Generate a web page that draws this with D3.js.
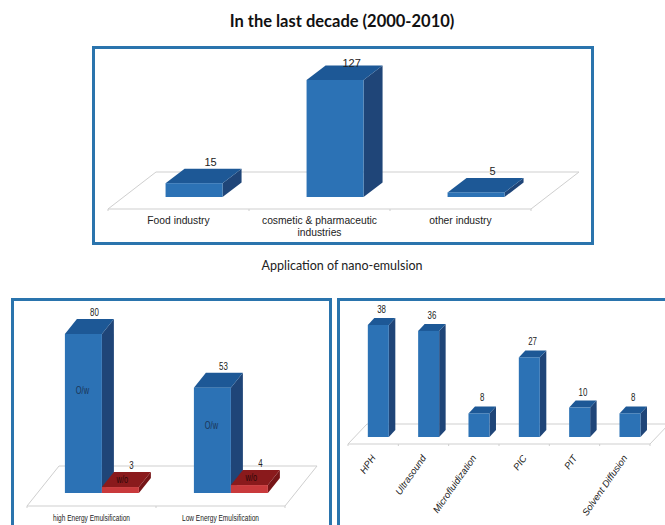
<!DOCTYPE html>
<html>
<head>
<meta charset="utf-8">
<script src="https://cdn.jsdelivr.net/npm/d3@7/dist/d3.min.js"></script>
<style>
  html, body { margin: 0; padding: 0; background: #fff; overflow: hidden; }
  svg { display: block; }
  text { fill: #222; }
</style>
</head>
<body>
<svg id="chart" width="665" height="525"></svg>
<script>
// Application of nano-emulsion by industry
const industryCategories = ["Food industry", "cosmetic & pharmaceutic industries", "other industry"];
const industryCounts = [15, 127, 5];

// Emulsion type by energy method
const energyCategories = ["high Energy Emulsification", "Low Energy Emulsification"];
const oilInWaterCounts = [80, 53];
const waterInOilCounts = [3, 4];
const oilInWaterLabel = "O/w";
const waterInOilLabel = "w/o";

// Count per preparation technique
const methodCategories = ["HPH", "Ultrasound", "Microfluidization", "PIC", "PIT", "Solvent Diffusion"];
const methodCounts = [38, 36, 8, 27, 10, 8];

const titleText = "In the last decade (2000-2010)";
const captionText = "Application of nano-emulsion";

const BLUE = { front: "#2c72b5", top: "#1d5896", side: "#1f4578" };
const RED = { front: "#c93a3c", top: "#8a1a1c", side: "#761517" };
const FRAME = "#2a74ad";
const FLOOR = "#cfcfcf";

const svg = d3.select("#chart");

function frame(x, y, w, h) {
  svg.append("rect").attr("x", x).attr("y", y).attr("width", w).attr("height", h)
    .attr("fill", "#fff").attr("stroke", FRAME).attr("stroke-width", 3);
}

const poly = pts => d3.line()(pts) + "Z";

// Narrow text drawn at a given anchor point
function squeezedText(parent, px, py, sx, size, fill, str) {
  return parent.append("text").attr("text-anchor", "middle")
    .attr("transform", `translate(${px},${py}) scale(${sx},1)`)
    .attr("font-family", "Liberation Sans").attr("font-size", size)
    .style("fill", fill).text(str);
}

// One 3D column chart: a skewed floor plane with extruded bars standing on it.
function columnChart(o) {
  const g = svg.append("g");
  const x = d3.scaleBand().domain(o.categories).range([o.floorLeft, o.floorRight]);
  const y = d3.scaleLinear().domain([0, o.maxValue]).range([o.baseY, o.maxY]);
  const sub = d3.scaleBand().domain(o.series.map(s => s.name))
    .range([0, o.barWidth * o.series.length]);
  const skew = (o.floorFrontY - o.baseY) / (o.floorFrontY - o.floorBackY) * o.floorDx + (o.barShift || 0);

  g.append("path").attr("fill", "none").attr("stroke", FLOOR).attr("stroke-width", 1)
    .attr("d", poly([
      [o.floorLeft, o.floorFrontY], [o.floorRight, o.floorFrontY],
      [o.floorRight + o.floorDx, o.floorBackY], [o.floorLeft + o.floorDx, o.floorBackY]
    ]));
  g.selectAll(".tick").data(o.categories.map(c => x(c)).concat(o.floorRight)).join("line")
    .attr("x1", d => d).attr("x2", d => d)
    .attr("y1", o.floorFrontY).attr("y2", o.floorFrontY + 2)
    .attr("stroke", FLOOR);

  const groupWidth = o.barWidth * o.series.length;
  o.series.forEach(s => {
    s.values.forEach((v, i) => {
      const c = o.categories[i];
      const x0 = x(c) + (x.bandwidth() - groupWidth) / 2 + skew + sub(s.name);
      const x1 = x0 + sub.bandwidth();
      const yb = y(0), yt = y(v);
      const dx = o.barDx, dy = o.barDy;
      g.append("path").attr("fill", s.colors.side)
        .attr("d", poly([[x1, yb], [x1 + dx, yb - dy], [x1 + dx, yt - dy], [x1, yt]]));
      g.append("path").attr("fill", s.colors.top)
        .attr("d", poly([[x0, yt], [x0 + dx, yt - dy], [x1 + dx, yt - dy], [x1, yt]]));
      g.append("rect").attr("x", x0).attr("y", yt).attr("width", x1 - x0).attr("height", yb - yt)
        .attr("fill", s.colors.front);

      const lx = (x0 + x1 + dx) / 2 + o.valueDx;
      const ly = Math.max(yt - dy - o.valueGap, o.valueMinY);
      squeezedText(g, lx, ly, o.valueSqueeze || 1, o.valueSize, "#222", v);

      if (s.inside === "front") {
        squeezedText(g, (x0 + x1) / 2 - 1, yt + (yb - yt) * 0.355 + 3.5, 0.75, 10, "#1a3558", s.name);
      } else if (s.inside === "top") {
        squeezedText(g, (x0 + x1 + dx) / 2 - 4, yt - dy / 2 + 3.5, 0.75, 10, "#2a0808", s.name);
      }
    });
  });
  return x;
}

svg.append("text").attr("x", 342).attr("y", 27).attr("text-anchor", "middle")
  .attr("font-family", "Lato").attr("font-weight", 700).attr("font-size", 16.5)
  .style("fill", "#111").text(titleText);

frame(93.5, 47.5, 499, 196);
const xIndustry = columnChart({
  categories: industryCategories,
  series: [{ name: "Count", values: industryCounts, colors: BLUE }],
  floorLeft: 108, floorRight: 531, floorFrontY: 209, floorBackY: 172, floorDx: 48,
  baseY: 197, maxY: 80, maxValue: 127, barWidth: 57, barDx: 19, barDy: 14.5,
  valueDx: 7, valueGap: 3, valueMinY: 67, valueSize: 11
});
const industryLines = [["Food industry"], ["cosmetic & pharmaceutic", "industries"], ["other industry"]];
industryCategories.forEach((c, i) => {
  industryLines[i].forEach((line, j) => {
    svg.append("text").attr("text-anchor", "middle")
      .attr("x", xIndustry(c) + xIndustry.bandwidth() / 2)
      .attr("y", 224 + j * 12)
      .attr("font-family", "Liberation Sans").attr("font-size", 10.3).text(line);
  });
});

svg.append("text").attr("x", 342).attr("y", 270).attr("text-anchor", "middle")
  .attr("font-family", "Lato").attr("font-size", 12.5).text(captionText);

frame(12.5, 299.5, 318, 240);
const xEnergy = columnChart({
  categories: energyCategories,
  series: [
    { name: oilInWaterLabel, values: oilInWaterCounts, colors: BLUE, inside: "front" },
    { name: waterInOilLabel, values: waterInOilCounts, colors: RED, inside: "top" }
  ],
  floorLeft: 27, floorRight: 285, floorFrontY: 506, floorBackY: 466, floorDx: 32,
  baseY: 493, maxY: 334, maxValue: 80, barWidth: 37, barDx: 12, barDy: 15,
  valueDx: 5, valueGap: 3, valueMinY: 0, valueSize: 11, valueSqueeze: 0.72
});
energyCategories.forEach(c => {
  svg.append("text").attr("text-anchor", "middle")
    .attr("x", xEnergy(c) + xEnergy.bandwidth() / 2).attr("y", 521)
    .attr("font-family", "Liberation Sans").attr("font-size", 9)
    .attr("textLength", 77).attr("lengthAdjust", "spacingAndGlyphs").text(c);
});

frame(338.5, 299.5, 340, 240);
const xMethod = columnChart({
  categories: methodCategories,
  series: [{ name: "Count", values: methodCounts, colors: BLUE }],
  floorLeft: 348, floorRight: 650, floorFrontY: 444, floorBackY: 424, floorDx: 19,
  baseY: 437, maxY: 325, maxValue: 38, barWidth: 21, barDx: 6.5, barDy: 7, barShift: -1.5,
  valueDx: 0, valueGap: 5, valueMinY: 0, valueSize: 11, valueSqueeze: 0.72
});
methodCategories.forEach(c => {
  const px = xMethod(c) + xMethod.bandwidth() / 2 + 3;
  svg.append("text").attr("text-anchor", "end")
    .attr("transform", `translate(${px},458) rotate(-55)`)
    .attr("font-family", "Liberation Sans").attr("font-style", "italic").attr("font-size", 9.5)
    .text(c);
});
</script>
</body>
</html>
